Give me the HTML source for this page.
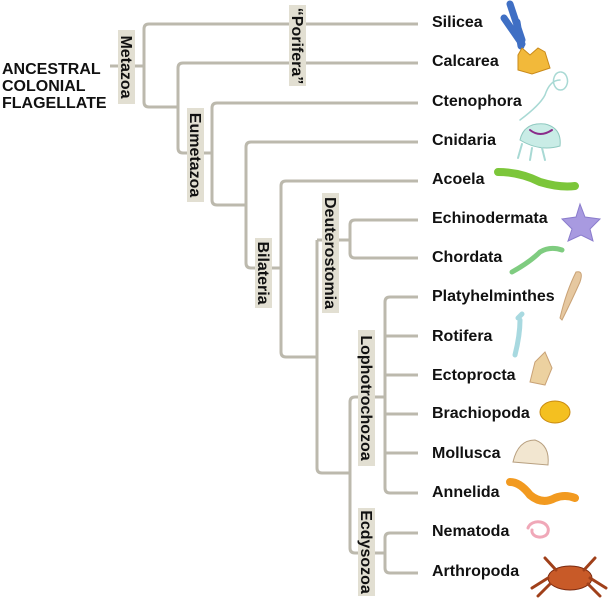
<!DOCTYPE html>
<html><head><meta charset="utf-8"><style>
html,body{margin:0;padding:0;background:#fff;width:608px;height:600px;overflow:hidden}
svg{display:block}
text{font-family:"Liberation Sans",Arial,sans-serif;font-weight:bold;fill:#111}
.l{font-size:16px}
.v{font-size:16px}
</style></head><body>
<svg width="608" height="600" viewBox="0 0 608 600" xmlns="http://www.w3.org/2000/svg">
<g fill="none" stroke="#bcb9ad" stroke-width="3" stroke-linejoin="round">
<path d="M110 66H144"/>
<path d="M418 24H149Q144 24 144 29V102Q144 107 149 107H178"/>
<path d="M418 63H183Q178 63 178 68V148Q178 153 183 153H212"/>
<path d="M418 103H217Q212 103 212 108V200Q212 205 217 205H246"/>
<path d="M418 142H251Q246 142 246 147V263Q246 268 251 268H281"/>
<path d="M418 181H286Q281 181 281 186V352Q281 357 286 357H317"/>
<path d="M317 240V468Q317 473 322 473H350"/>
<path d="M317 240H350"/>
<path d="M418 220H355Q350 220 350 225V253Q350 258 355 258H418"/>
<path d="M418 297H390Q385 297 385 302V488Q385 493 390 493H418"/>
<path d="M385 336H418M385 375H418M385 414H418M385 453H418"/>
<path d="M385 397H355Q350 397 350 402V548Q350 553 355 553H385"/>
<path d="M418 533H390Q385 533 385 538V568Q385 573 390 573H418"/>
</g>
<g fill="#e2dfd2">
<rect x="118" y="30" width="17" height="74"/>
<rect x="289" y="5" width="17" height="81"/>
<rect x="187" y="108" width="17" height="94"/>
<rect x="255" y="238" width="17" height="70"/>
<rect x="322" y="193" width="17" height="120"/>
<rect x="358" y="330" width="17" height="136"/>
<rect x="358" y="508" width="17" height="88"/>
</g>
<g class="v">
<text transform="translate(121,67) rotate(90)" text-anchor="middle">Metazoa</text>
<text transform="translate(292,46) rotate(90)" text-anchor="middle">“Porifera”</text>
<text transform="translate(190,155) rotate(90)" text-anchor="middle">Eumetazoa</text>
<text transform="translate(258,273) rotate(90)" text-anchor="middle">Bilateria</text>
<text transform="translate(325,253) rotate(90)" text-anchor="middle">Deuterostomia</text>
<text transform="translate(361,398) rotate(90)" text-anchor="middle">Lophotrochozoa</text>
<text transform="translate(361,552) rotate(90)" text-anchor="middle">Ecdysozoa</text>
</g>
<g class="l">
<text x="2" y="74">ANCESTRAL</text>
<text x="2" y="91">COLONIAL</text>
<text x="2" y="108">FLAGELLATE</text>
<text x="432" y="27">Silicea</text>
<text x="432" y="66">Calcarea</text>
<text x="432" y="106">Ctenophora</text>
<text x="432" y="145">Cnidaria</text>
<text x="432" y="184">Acoela</text>
<text x="432" y="223">Echinodermata</text>
<text x="432" y="262">Chordata</text>
<text x="432" y="301">Platyhelminthes</text>
<text x="432" y="341">Rotifera</text>
<text x="432" y="380">Ectoprocta</text>
<text x="432" y="418">Brachiopoda</text>
<text x="432" y="458">Mollusca</text>
<text x="432" y="497">Annelida</text>
<text x="432" y="536">Nematoda</text>
<text x="432" y="576">Arthropoda</text>
</g>
<g stroke-linecap="round" fill="none">
<path d="M504 18L522 44M510 4L522 40M517 22L521 46" stroke="#3f6fc4" stroke-width="7"/>
<path d="M518 55L522 48L530 55L538 48L545 52L550 68L532 74L518 70Z" fill="#f2b93a" stroke="#c98a1a" stroke-width="1"/>
<path d="M520 120Q540 105 545 95Q550 80 560 80M560 72a7 9 0 1 0 1 0" stroke="#a8d9d4" stroke-width="1.5"/>
<path d="M520 140Q524 122 545 124Q562 128 560 146Q540 152 520 140Z" fill="#c9ece6" stroke="#8fc9c0"/>
<path d="M530 130Q540 138 552 130" stroke="#8a2b8a" stroke-width="2"/>
<path d="M522 144L518 158M532 148L530 160M542 148L545 160" stroke="#a8d9d4" stroke-width="2"/>
<path d="M498 172Q520 172 540 182Q560 188 575 186" stroke="#7cc63a" stroke-width="8"/>
<path d="M580 204L585 217L600 219L590 229L593 241L581 235L568 241L572 229L562 219L576 217Z" fill="#a89ae0" stroke="#8a7ccc"/>
<path d="M512 272Q530 262 540 252Q550 246 562 250" stroke="#7fcc80" stroke-width="5"/>
<path d="M562 320Q572 300 580 282Q584 270 576 272Q566 292 560 318Z" fill="#e6c8a0" stroke="#c9a276"/>
<path d="M515 355Q520 335 520 320M518 318l4 -4" stroke="#a8d9e0" stroke-width="5"/>
<path d="M530 382L535 362L545 352L552 368L545 385Z" fill="#ecd1a0" stroke="#c9a276"/>
<ellipse cx="555" cy="412" rx="15" ry="11" fill="#f4c020" stroke="#c98a10"/>
<path d="M513 462Q518 440 535 440Q550 445 548 465Z" fill="#f2e6d0" stroke="#b8a080"/>
<path d="M510 482Q520 482 530 495Q542 505 555 498Q565 494 575 498" stroke="#f29a20" stroke-width="8"/>
<path d="M528 528a10 8 0 1 1 20 4a8 6 0 1 1 -16 -2" stroke="#f0a8b8" stroke-width="3"/>
<ellipse cx="570" cy="578" rx="22" ry="12" fill="#c85a28" stroke="#7a2a10"/>
<path d="M548 578L532 588M550 584L538 596M590 578L606 588M588 584L600 596M556 570L545 558M584 570L595 558" stroke="#a0401a" stroke-width="3"/>
</g>
</svg>
</body></html>
